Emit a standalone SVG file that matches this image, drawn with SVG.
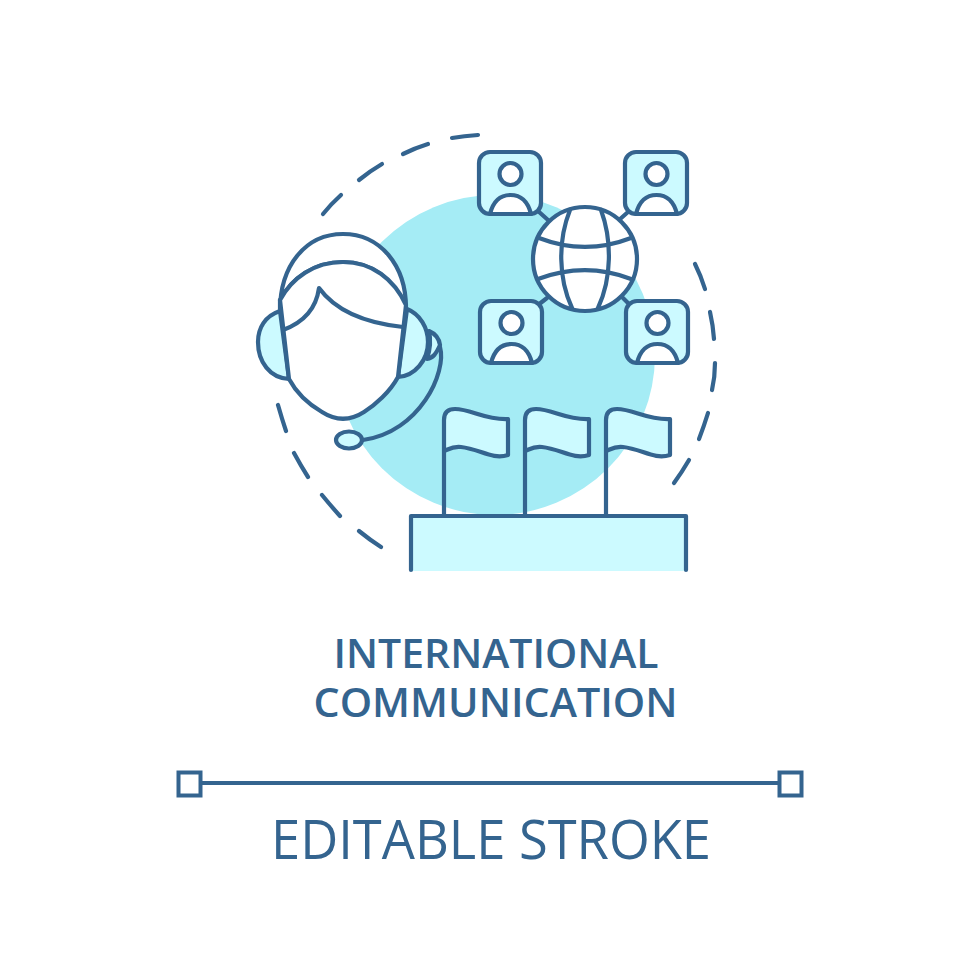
<svg xmlns="http://www.w3.org/2000/svg" width="980" height="980" viewBox="0 0 980 980">
<defs>
<style>
.s{stroke:#34648f;stroke-width:4.2;stroke-linecap:round;stroke-linejoin:round;fill:none}
.w{fill:#fff}
.l{fill:#ccfaff}
.t{fill:#34648f;font-family:"Open Sans","Noto Sans",sans-serif;text-anchor:middle}
</style>
<g id="person">
<rect class="s l" x="0" y="0" width="62" height="62" rx="11"/>
<circle class="s w" cx="31.500" cy="22" r="11"/>
<path class="s w" d="M11,62C14,50 21,43 31.500,43C42,43 49,50 52,62Z"/>
</g>
<g id="flag">
<path class="l" d="M0,451V420Q0,409 11,409C27,409 41,420 64,419V455C48,460 36,449 17,447C9,446 5,449 0,451Z"/>
<path class="s" d="M0,516V420Q0,409 11,409C27,409 41,420 64,419V455C48,460 36,449 17,447C9,446 5,449 0,451"/>
</g>
</defs>
<rect width="980" height="980" fill="#fff"/>
<g id="backdrop"><circle cx="495" cy="355" r="160" fill="#a5ecf5"/></g>
<g id="connectors" class="s">
<path d="M538,211L548,220M628,212L619,220M547,298L538,305M623,298L630,305"/>
<path d="M478,135Q464,136 452,138M428,144Q415,148 403,154M382,164Q370,171 359,180M341,195Q331,204 323,214"/>
<path d="M278,405Q282,419 286,431M294,453Q301,466 308,477M322,495Q331,506 340,516M359,531Q370,540 381,547"/>
<path d="M695,264Q701,276 705,289M710,312Q713,325 714,339M715,363Q715,377 712,390M708,413Q704,426 699,439M689,460Q682,472 674,483"/>
</g>
<g id="agent">
<path class="s l" d="M280,311C265,316 258,328 258,342C258,362 270,378 289,379Z"/>
<path class="s l" d="M407,309C420,314 428,328 428,342C428,360 415,376 398,377Z"/>
<path class="s l" d="M429,331C436,334 439,338 440,345C436,354 433,358 427,359C430,350 431,340 429,331Z"/>
<path class="s w" d="M280,311C280,265 306,234 343,234C380,234 406,265 406,308C394,279 372,262 343,262C314,262 292,278 280,300Z"/>
<path class="s w" d="M280,300C292,278 314,262 343,262C372,262 394,279 406,305L398,377C390,392 375,405 364,412C350,421 336,421 322,412C310,405 297,394 289,379Z"/>
<path class="s" d="M283,330C302,323 316,310 319,288C335,310 365,323 403,327"/>
<path class="s" d="M440,347C447,372 420,432 363,440"/>
<ellipse class="s l" cx="349" cy="440" rx="13" ry="8.500"/>
</g>
<g id="person-tl"><use href="#person" x="479" y="152"/></g>
<g id="person-tr"><use href="#person" x="625" y="152"/></g>
<g id="person-bl"><use href="#person" x="480" y="301"/></g>
<g id="person-br"><use href="#person" x="626" y="301"/></g>
<g id="globe">
<circle class="s w" cx="585" cy="259" r="52"/>
<path class="s" d="M570,210C558,240 558,278 572,308M601,210C612,240 612,278 598,308M539,238C570,250 600,250 631,238M538,279C570,267 600,267 631,279"/>
</g>
<g id="podium">
<rect class="l" x="411" y="516" width="275" height="55"/>
<use href="#flag" x="444"/>
<use href="#flag" x="525"/>
<use href="#flag" x="606"/>
<path class="s" d="M411,570V516H686V570"/>
</g>
<g id="title">
<text class="t" x="496" y="668" font-size="39" font-weight="600" textLength="325" lengthAdjust="spacingAndGlyphs">INTERNATIONAL</text>
<text class="t" x="495.500" y="717" font-size="39" font-weight="600" textLength="364" lengthAdjust="spacingAndGlyphs">COMMUNICATION</text>
</g>
<g id="stroke-sample">
<path d="M201,783H778" stroke="#34648f" stroke-width="4" fill="none"/>
<rect x="178.500" y="772.500" width="22" height="23" fill="#fff" stroke="#34648f" stroke-width="4"/>
<rect x="779.500" y="772.500" width="22" height="23" fill="#fff" stroke="#34648f" stroke-width="4"/>
<text class="t" x="491" y="859" font-size="54" font-weight="500" textLength="440" lengthAdjust="spacingAndGlyphs">EDITABLE STROKE</text>
</g>
</svg>
